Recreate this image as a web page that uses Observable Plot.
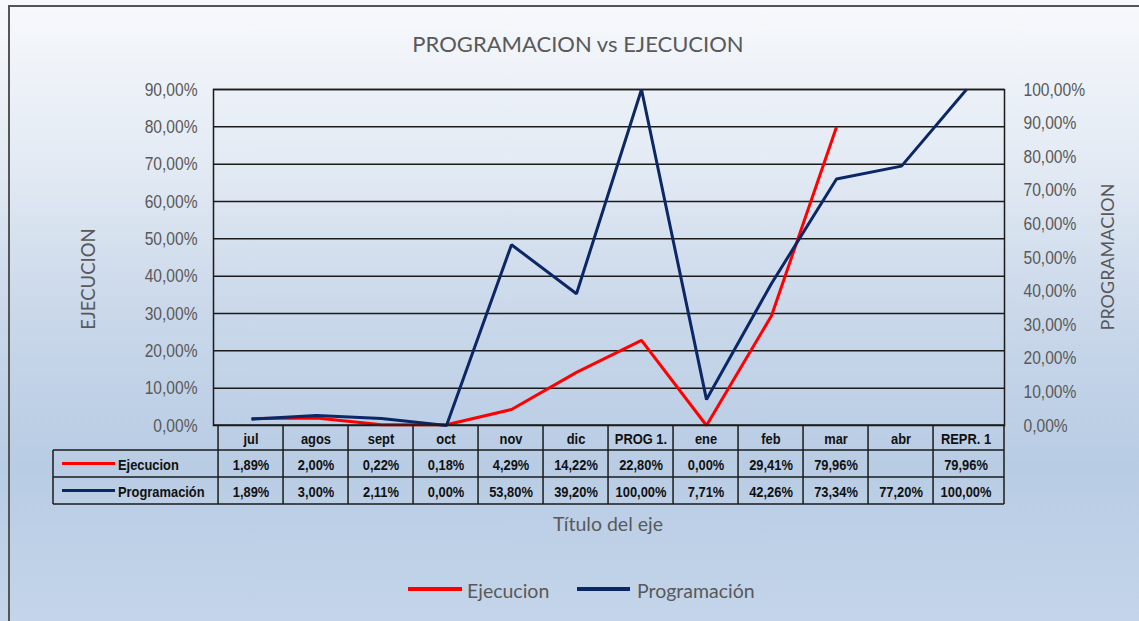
<!DOCTYPE html>
<html>
<head>
<meta charset="utf-8">
<script src="https://cdn.jsdelivr.net/npm/d3@7"></script>
<script src="https://cdn.jsdelivr.net/npm/@observablehq/plot@0.6"></script>
<style>
  html, body { margin: 0; padding: 0; }
  body {
    width: 1139px; height: 621px; overflow: hidden; position: relative;
    background: linear-gradient(to bottom, #f7f9fc 0%, #e4ebf4 25%, #cad8ea 50%, #b8cce4 75%, #c4d5ea 100%);
  }
  #frame {
    position: absolute; left: 8px; top: 5px; width: 1140px; height: 620px;
    border-left: 2px solid #555; border-top: 2px solid #555; box-sizing: border-box;
  }
  #chart { position: absolute; left: 0; top: 0; }
</style>
</head>
<body>
<div id="frame"></div>
<div id="chart"></div>
<script>
// ---- data ----
const categories = ["jul", "agos", "sept", "oct", "nov", "dic", "PROG 1.", "ene", "feb", "mar", "abr", "REPR. 1"];
const ejecucion = [0.0189, 0.0200, 0.0022, 0.0018, 0.0429, 0.1422, 0.2280, 0.0000, 0.2941, 0.7996, null, 0.7996];
const programacion = [0.0189, 0.0300, 0.0211, 0.0000, 0.5380, 0.3920, 1.0000, 0.0771, 0.4226, 0.7334, 0.7720, 1.0000];
const leftTicks = [0, 0.1, 0.2, 0.3, 0.4, 0.5, 0.6, 0.7, 0.8, 0.9];
const rightTicks = [0, 0.1, 0.2, 0.3, 0.4, 0.5, 0.6, 0.7, 0.8, 0.9, 1.0];
const seriesNames = ["Ejecucion", "Programación"];
const seriesColors = ["#ff0000", "#0c2766"];
const titleText = "PROGRAMACION vs EJECUCION";
const leftTitle = "EJECUCION";
const rightTitle = "PROGRAMACION";
const xTitle = "Título del eje";

// ---- layout ----
const W = 1139, H = 621;
const mL = 213, mR = 135, mT = 89, mB = 196;
const leftMax = 0.9, rightMax = 1.0;
const K = leftMax / rightMax; // secondary axis mapping
const narrow = "'Liberation Sans', Arial, sans-serif";
const calib = "Lato, 'Open Sans', sans-serif";
const fmt = v => (v * 100).toFixed(2).replace(".", ",") + "%";

const data = categories.map((c, i) => ({cat: c, ejec: ejecucion[i], prog: programacion[i]}));

const plot = Plot.plot({
  width: W, height: H,
  marginLeft: mL, marginRight: mR, marginTop: mT, marginBottom: mB,
  style: {background: "transparent", overflow: "visible", color: "#595959"},
  x: {type: "point", domain: categories, padding: 0.5, axis: null},
  y: {domain: [0, leftMax], axis: null},
  marks: [
    Plot.ruleY(leftTicks.filter(t => t > 0), {stroke: "#1b1b1b", strokeWidth: 1.5}),
    Plot.frame({stroke: "#1b1b1b", strokeWidth: 1.5}),
    Plot.axisY(leftTicks, {anchor: "left", tickSize: 0, tickPadding: 16, tickFormat: fmt,
      fontSize: 19, fontFamily: narrow, label: null}),
    Plot.axisY(rightTicks.map(v => v * K), {anchor: "right", tickSize: 0, tickPadding: 19,
      tickFormat: d => fmt(d / K), fontSize: 19, fontFamily: narrow, label: null}),
    Plot.line(data, {x: "cat", y: "ejec", stroke: seriesColors[0], strokeWidth: 3,
      strokeLinecap: "butt", strokeLinejoin: "miter"}),
    Plot.line(data, {x: "cat", y: d => d.prog * K, stroke: seriesColors[1], strokeWidth: 3,
      strokeLinecap: "butt", strokeLinejoin: "miter"})
  ]
});
document.getElementById("chart").appendChild(plot);

const condense = (sel, f) => sel.each(function () {
  const w = this.getComputedTextLength();
  if (w > 0) { this.setAttribute("textLength", w * f); this.setAttribute("lengthAdjust", "spacingAndGlyphs"); }
});

const svg = d3.select(plot);
condense(svg.selectAll('g[aria-label="y-axis tick label"] text'), 0.82);

// ---- data table drawn with the x scale ----
const xs = plot.scale("x");
const step = (xs.range[1] - xs.range[0]) / categories.length;
const xL = xs.range[0], xR = xs.range[1];
const yB = H - mB;
const rows = [yB, yB + 25, yB + 52, yB + 79];
const tableLeft = 53;
const g = svg.append("g");
const ln = (x1, y1, x2, y2) => g.append("line").attr("x1", x1).attr("y1", y1).attr("x2", x2).attr("y2", y2)
  .attr("stroke", "#1b1b1b").attr("stroke-width", 1.5);
ln(xL, rows[0], xR, rows[0]);
for (let r = 1; r < 4; r++) ln(tableLeft, rows[r], xR, rows[r]);
ln(tableLeft, rows[1], tableLeft, rows[3]);
categories.forEach(c => ln(xs.apply(c) - step / 2, rows[0], xs.apply(c) - step / 2, rows[3]));
ln(xR, rows[0], xR, rows[3]);

const tableTexts = [];
const txt = (x, y, s, anchor) => {
  const t = g.append("text").attr("x", x).attr("y", y).text(s)
    .attr("text-anchor", anchor || "middle").attr("dominant-baseline", "central")
    .attr("font-family", narrow).attr("font-weight", "bold").attr("font-size", 14).attr("fill", "#111");
  tableTexts.push(t.node());
  return t;
};
categories.forEach((c, i) => {
  const cx = xs.apply(c);
  txt(cx, (rows[0] + rows[1]) / 2 + 1, c);
  if (ejecucion[i] != null) txt(cx, (rows[1] + rows[2]) / 2 + 1, fmt(ejecucion[i]));
  if (programacion[i] != null) txt(cx, (rows[2] + rows[3]) / 2 + 1, fmt(programacion[i]));
});
seriesNames.forEach((name, i) => {
  const yc = (rows[i + 1] + rows[i + 2]) / 2;
  g.append("line").attr("x1", 62).attr("x2", 115).attr("y1", yc).attr("y2", yc)
    .attr("stroke", seriesColors[i]).attr("stroke-width", 3);
  txt(118, yc + 1, name, "start");
});
condense(d3.selectAll(tableTexts), 0.92);

// ---- titles & legend ----
const label = (x, y, s, size, rot) => {
  const t = svg.append("text").attr("text-anchor", "middle").attr("dominant-baseline", "central")
    .attr("font-family", calib).attr("font-size", size).attr("fill", "#595959").text(s);
  if (rot) t.attr("transform", `translate(${x},${y}) rotate(-90)`); else t.attr("x", x).attr("y", y);
  return t;
};
label(578, 43, titleText, 22);
label(88, 279, leftTitle, 18.5, true);
label(1107, 257, rightTitle, 18, true);
label(608, 523, xTitle, 19.5);

const legX = [[408, 462, 467], [577, 630, 637]];
seriesNames.forEach((name, i) => {
  svg.append("line").attr("x1", legX[i][0]).attr("x2", legX[i][1]).attr("y1", 589).attr("y2", 589)
    .attr("stroke", seriesColors[i]).attr("stroke-width", 4);
  svg.append("text").attr("x", legX[i][2]).attr("y", 590).attr("dominant-baseline", "central")
    .attr("text-anchor", "start")
    .attr("font-family", calib).attr("font-size", 19.5).attr("fill", "#595959").text(name);
});
</script>
</body>
</html>
